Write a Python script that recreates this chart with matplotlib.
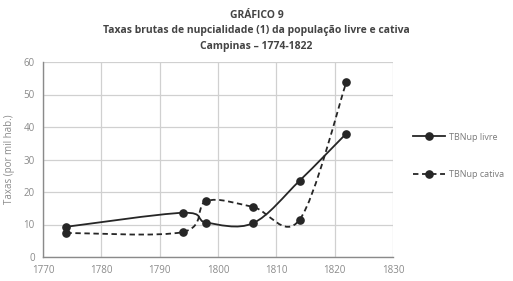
import matplotlib
matplotlib.use("Agg")
import matplotlib.pyplot as plt
from matplotlib.path import Path
from matplotlib.patches import PathPatch
from matplotlib.lines import Line2D
import numpy as np

years = [1774, 1794, 1798, 1806, 1814, 1822]
livre = [9.3, 13.6, 10.6, 10.4, 23.5, 38.0]
cativa = [7.4, 7.7, 17.2, 15.4, 11.5, 53.8]
series_labels = ["TBNup livre", "TBNup cativa"]
xticks = [1770, 1780, 1790, 1800, 1810, 1820, 1830]
yticks = [0, 10, 20, 30, 40, 50, 60]

title_lines = ["GRÁFICO 9",
               "Taxas brutas de nupcialidade (1) da população livre e cativa",
               "Campinas – 1774-1822"]

plt.rcParams['font.family'] = ['Open Sans', 'DejaVu Sans']

fig = plt.figure(figsize=(5.13, 2.81), dpi=100)
ax = fig.add_axes([43/513, 1-257/281, (393-43)/513, (257-62)/281])

def smooth_path(xs, ys):
    pts = np.column_stack([xs, ys]).astype(float)
    n = len(pts)
    verts = [pts[0]]
    codes = [Path.MOVETO]
    for i in range(n - 1):
        p0 = pts[i - 1] if i > 0 else pts[i]
        p1 = pts[i]
        p2 = pts[i + 1]
        p3 = pts[i + 2] if i + 2 < n else pts[i + 1]
        c1 = p1 + (p2 - p0) / 6.0
        c2 = p2 - (p3 - p1) / 6.0
        verts += [c1, c2, p2]
        codes += [Path.CURVE4] * 3
    return Path(verts, codes)

col = '#262626'
dash = (0, (3.0, 2.0))
for vals, ls in [(livre, '-'), (cativa, dash)]:
    patch = PathPatch(smooth_path(years, vals), facecolor='none', edgecolor=col,
                      lw=1.3, linestyle=ls, zorder=3)
    ax.add_patch(patch)
    ax.plot(years, vals, linestyle='none', marker='o', ms=5.2, color=col, zorder=4)

ax.set_xlim(1770, 1830)
ax.set_ylim(0, 60)
ax.set_xticks(xticks)
ax.set_yticks(yticks)
ax.grid(True, color='#d0d0d0', lw=0.9)
ax.set_axisbelow(True)
for s in ['top', 'right']:
    ax.spines[s].set_visible(False)
for s in ['left', 'bottom']:
    ax.spines[s].set_color('#8a8a8a')
    ax.spines[s].set_linewidth(1.0)
ax.tick_params(length=0, labelsize=7, colors='#8a8a8a', pad=6)
ax.set_ylabel("Taxas (por mil hab.)", fontsize=7, color='#8a8a8a', labelpad=6)

handles = [Line2D([], [], color=col, lw=1.3, ls='-', marker='o', ms=5.2),
           Line2D([], [], color=col, lw=1.3, ls=dash, marker='o', ms=5.2)]
leg = fig.legend(handles, series_labels, loc='center left',
                 bbox_to_anchor=(405/513, 1-156/281), frameon=False,
                 fontsize=6.5, labelspacing=3.2, handlelength=3.5, handletextpad=0.5)
for t in leg.get_texts():
    t.set_color('#7a7a7a')

for i, (t, y) in enumerate(zip(title_lines, [15, 31, 46])):
    fig.text(0.5, 1 - y/281, t, ha='center', va='center', fontsize=7.5,
             fontweight='bold', color='#444444')

fig.savefig("out.png", dpi=100)
